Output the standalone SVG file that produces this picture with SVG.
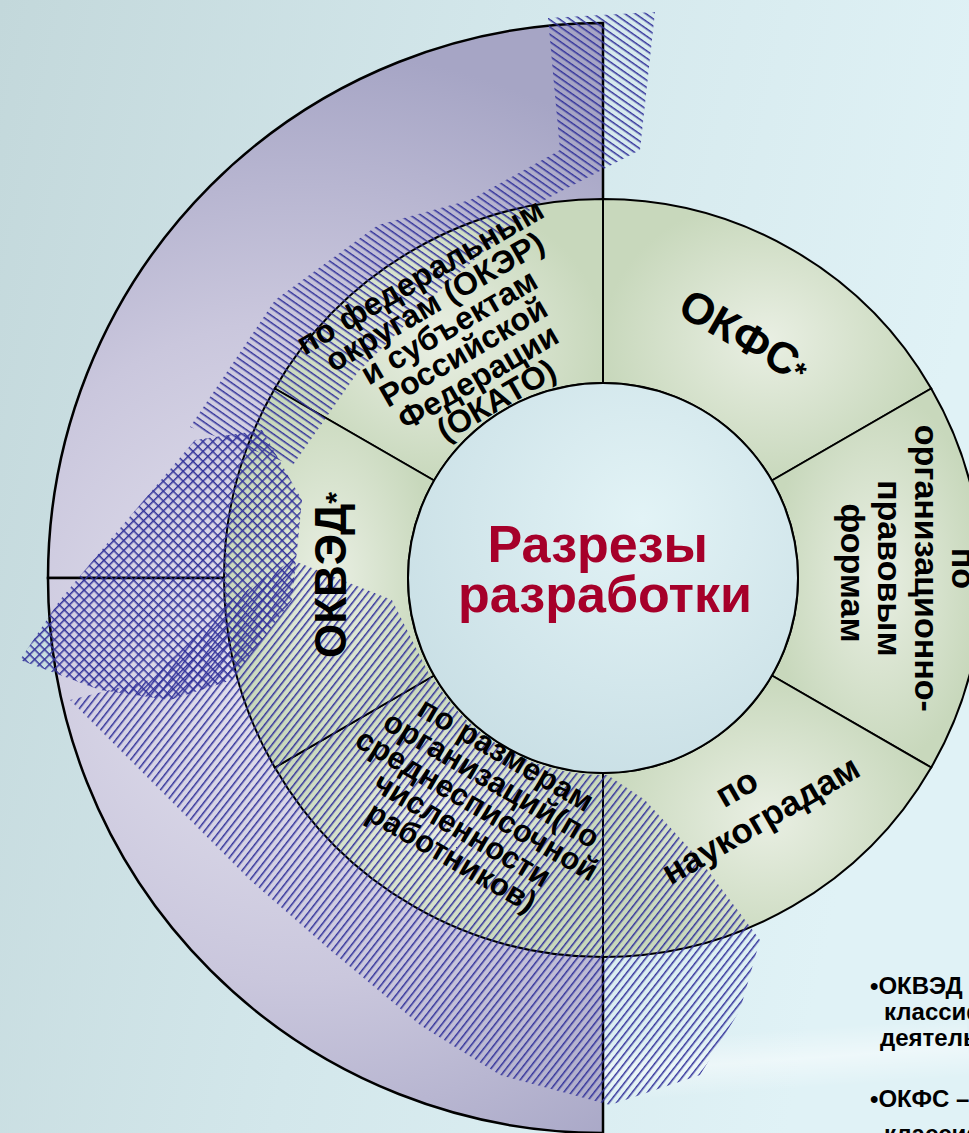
<svg xmlns="http://www.w3.org/2000/svg" width="969" height="1133" viewBox="0 0 969 1133">
<defs>
<style>
.seg{fill:url(#segG);stroke:#000;stroke-width:2}
.lbl{font-family:"Liberation Sans",Arial,sans-serif;font-weight:bold;fill:#000;text-anchor:middle}
.pie{fill:url(#lav);stroke:#000;stroke-width:2.5}
.note{font-family:"Liberation Sans",Arial,sans-serif;font-weight:bold;font-size:24px;fill:#000}
</style>
<linearGradient id="bg" x1="0" y1="0" x2="1" y2="0.25">
<stop offset="0" stop-color="#c3d8db"/>
<stop offset="0.5" stop-color="#d3e7eb"/>
<stop offset="1" stop-color="#e0f2f6"/>
</linearGradient>
<linearGradient id="streak" x1="0" y1="0" x2="0" y2="1">
<stop offset="0" stop-color="#ffffff" stop-opacity="0"/>
<stop offset="0.5" stop-color="#ffffff" stop-opacity="0.45"/>
<stop offset="1" stop-color="#ffffff" stop-opacity="0"/>
</linearGradient>
<radialGradient id="lav" gradientUnits="userSpaceOnUse" cx="300" cy="650" r="600">
<stop offset="0" stop-color="#e6e4f0"/>
<stop offset="0.55" stop-color="#cac7dd"/>
<stop offset="1" stop-color="#a6a5c5"/>
</radialGradient>
<radialGradient id="segG">
<stop offset="0" stop-color="#e9efe3"/>
<stop offset="1" stop-color="#c8d8bc"/>
</radialGradient>
<radialGradient id="coreG" cx="0.6" cy="0.35" r="0.7">
<stop offset="0" stop-color="#e2f3f6"/>
<stop offset="1" stop-color="#c9dfe5"/>
</radialGradient>
<pattern id="hA" patternUnits="userSpaceOnUse" width="9" height="6" patternTransform="rotate(35)">
<rect x="0" y="0" width="9" height="1.5" fill="#33339a"/>
</pattern>
<pattern id="hB" patternUnits="userSpaceOnUse" width="7" height="7" patternTransform="rotate(45)">
<rect x="0" y="0" width="7" height="1.5" fill="#33339a"/>
<rect x="0" y="0" width="1.5" height="7" fill="#33339a"/>
</pattern>
<pattern id="hC" patternUnits="userSpaceOnUse" width="9" height="6" patternTransform="rotate(-52)">
<rect x="0" y="0" width="9" height="1.5" fill="#33339a"/>
</pattern>
<mask id="noCore" maskUnits="userSpaceOnUse" x="0" y="0" width="969" height="1133">
<rect x="0" y="0" width="969" height="1133" fill="#fff"/>
<circle cx="603" cy="578" r="197" fill="#000"/>
</mask>
</defs>

<g id="background">
<rect x="0" y="0" width="969" height="1133" fill="url(#bg)"/>
<rect x="600" y="1030" width="369" height="60" fill="url(#streak)" transform="rotate(-4 780 1060)"/>
</g>

<g id="backdrop">
<path class="pie" d="M603,578 L48,578 A555,555 0 0 1 603,23 Z"/>
<path class="pie" d="M603,578 L603,1133 A555,555 0 0 1 48,578 Z"/>
</g>

<g id="node-regions">
<path class="seg" d="M274.8,388.5 A379,379 0 0 1 603,199 L603,383 A195,195 0 0 0 434.1,480.5 Z"/>
</g>
<g id="node-okfs">
<path class="seg" d="M603,199 A379,379 0 0 1 931.2,388.5 L771.9,480.5 A195,195 0 0 0 603,383 Z"/>
</g>
<g id="node-opf">
<path class="seg" d="M931.2,388.5 A379,379 0 0 1 931.2,767.5 L771.9,675.5 A195,195 0 0 0 771.9,480.5 Z"/>
</g>
<g id="node-naukograd">
<path class="seg" d="M931.2,767.5 A379,379 0 0 1 603,957 L603,773 A195,195 0 0 0 771.9,675.5 Z"/>
</g>
<g id="node-size">
<path class="seg" d="M603,957 A379,379 0 0 1 274.8,767.5 L434.1,675.5 A195,195 0 0 0 603,773 Z"/>
</g>
<g id="node-okved">
<path class="seg" d="M274.8,767.5 A379,379 0 0 1 274.8,388.5 L434.1,480.5 A195,195 0 0 0 434.1,675.5 Z"/>
</g>
<g id="node-center">
<circle cx="603" cy="578" r="195" fill="url(#coreG)" stroke="#000" stroke-width="2"/>
</g>

<g id="hatching" mask="url(#noCore)">
<polygon fill="url(#hA)" points="655,12 548,18 560,150 470,200 378,225 275,300 190,427 293,465 358,372 438,292 537,204 640,150"/>
<polygon fill="url(#hB)" points="195,440 262,430 302,500 292,600 232,680 170,700 100,690 20,660 60,600 110,540"/>
<polygon fill="url(#hC)" points="232,600 292,560 392,600 432,680 520,740 600,770 645,800 700,860 760,940 740,1010 700,1075 610,1105 500,1075 420,1025 330,950 250,880 160,790 70,700 150,680"/>
</g>

<g id="labels">
<text class="lbl" font-size="32" transform="translate(460,337) rotate(-30)">
<tspan x="0" y="-61.5">по федеральным</tspan>
<tspan x="0" y="-32.5">округам (ОКЭР)</tspan>
<tspan x="0" y="-3.5">и субъектам</tspan>
<tspan x="0" y="25.5">Российской</tspan>
<tspan x="0" y="54.5">Федерации</tspan>
<tspan x="0" y="83.5">(ОКАТО)</tspan>
</text>
<text class="lbl" font-size="44" transform="translate(745,335) rotate(30)"><tspan x="0" y="16">ОКФС<tspan font-size="30">*</tspan></tspan></text>
<text class="lbl" font-size="34" transform="translate(905,573) rotate(90)">
<tspan x="0" y="-46.5">по</tspan>
<tspan x="0" y="-9.5">организационно-</tspan>
<tspan x="0" y="27.5">правовым</tspan>
<tspan x="0" y="64.5">формам</tspan>
</text>
<text class="lbl" font-size="35" transform="translate(752,805) rotate(-30)">
<tspan x="0" y="-11">по</tspan>
<tspan x="0" y="29">наукоградам</tspan>
</text>
<text class="lbl" font-size="31" transform="translate(480,808) rotate(30)">
<tspan x="0" y="-49">по размерам</tspan>
<tspan x="0" y="-20">организаций(по</tspan>
<tspan x="0" y="9">среднесписочной</tspan>
<tspan x="0" y="38">численности</tspan>
<tspan x="0" y="67">работников)</tspan>
</text>
<text class="lbl" font-size="44" transform="translate(330,575) rotate(-90)"><tspan x="0" y="16">ОКВЭД<tspan font-size="30">*</tspan></tspan></text>
<text class="lbl" font-size="52" style="fill:#a6002a">
<tspan x="605" y="562">Разрезы</tspan>
<tspan x="605" y="612">разработки</tspan>
</text>
</g>

<g id="footnotes">
<text class="note" x="870" y="994">•ОКВЭД – Общероссийский</text>
<text class="note" x="884" y="1020">классификатор видов экономической</text>
<text class="note" x="880" y="1046">деятельности</text>
<text class="note" x="870" y="1107">•ОКФС – Общероссийский</text>
<text class="note" x="884" y="1142">классификатор форм собственности</text>
</g>
</svg>
